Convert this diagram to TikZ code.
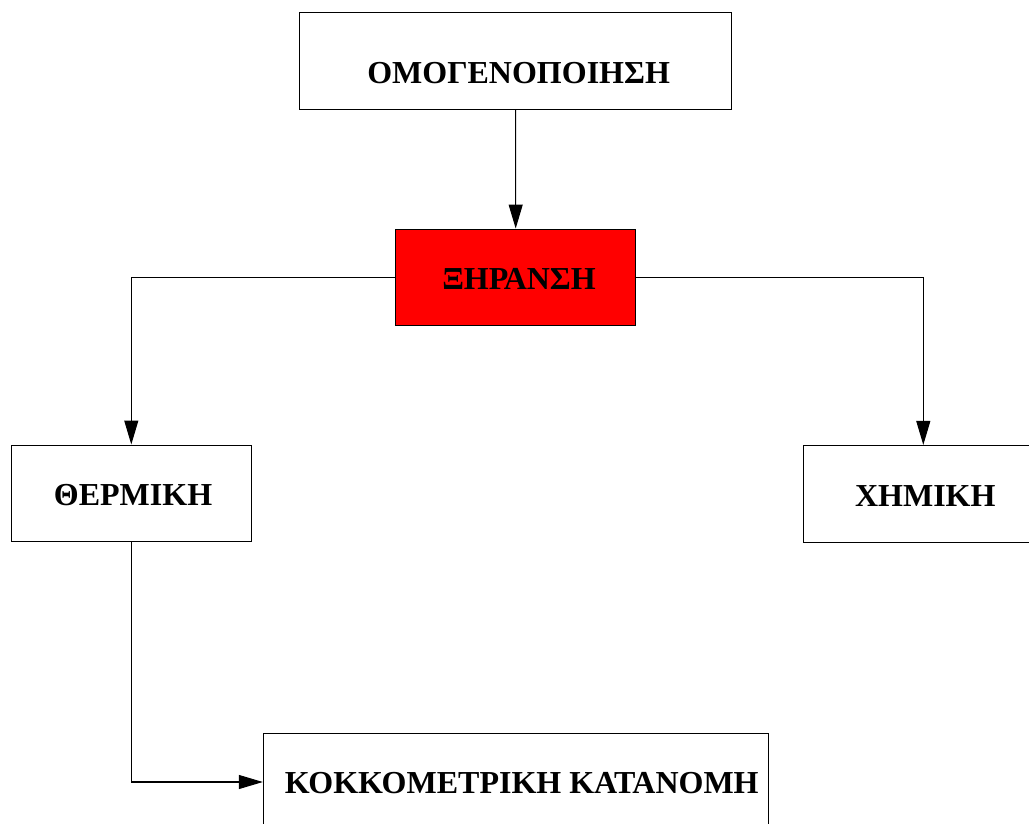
\documentclass[tikz,border=0pt]{standalone}
\usepackage{fontspec}
\setmainfont{Liberation Serif}
\usetikzlibrary{arrows.meta}
\begin{document}
\begin{tikzpicture}[x=0.75pt,y=-0.75pt,
  box/.style={draw=black, line width=0.8pt, inner sep=0pt,
    minimum width=#1, minimum height=72.5pt},
  box/.default=180pt,
  lbl/.style={font=\fontsize{24}{28}\selectfont\bfseries, inner sep=0pt},
  arr/.style={draw=black, line width=0.8pt,
    -{Triangle[length=18pt,width=10.5pt]}}]
\useasboundingbox (0,0) rectangle (1029,824);
\clip (0,0) rectangle (1029,824);

% process boxes
\node[box=324pt,
  label={[lbl, shift={(2.25pt,-9pt)}]center:ΟΜΟΓΕΝΟΠΟΙΗΣΗ}] (omog) at (515.6,61) {};
\node[box, fill=red,
  label={[lbl, shift={(2.5pt,-1pt)}]center:ΞΗΡΑΝΣΗ}] (xir) at (515.7,277.4) {};
\node[box,
  label={[lbl, shift={(1.3pt,-1.2pt)}]center:ΘΕΡΜΙΚΗ}] (therm) at (131.3,493.4) {};
\node[box,
  label={[lbl, shift={(1.5pt,-1.6pt)}]center:ΧΗΜΙΚΗ}] (chem) at (923.3,493.8) {};
\node[box=378.5pt,
  label={[lbl, shift={(4.5pt,-0.8pt)}]center:ΚΟΚΚΟΜΕΤΡΙΚΗ ΚΑΤΑΝΟΜΗ}] (kokk) at (515.7,782) {};

% connectors
\draw[arr] (omog.south) -- (xir.north);
\draw[arr] (xir.west) -| (therm.north);
\draw[arr] (xir.east) -| (chem.north);
\draw[arr] (therm.south) |- (kokk.west);
\end{tikzpicture}
\end{document}
